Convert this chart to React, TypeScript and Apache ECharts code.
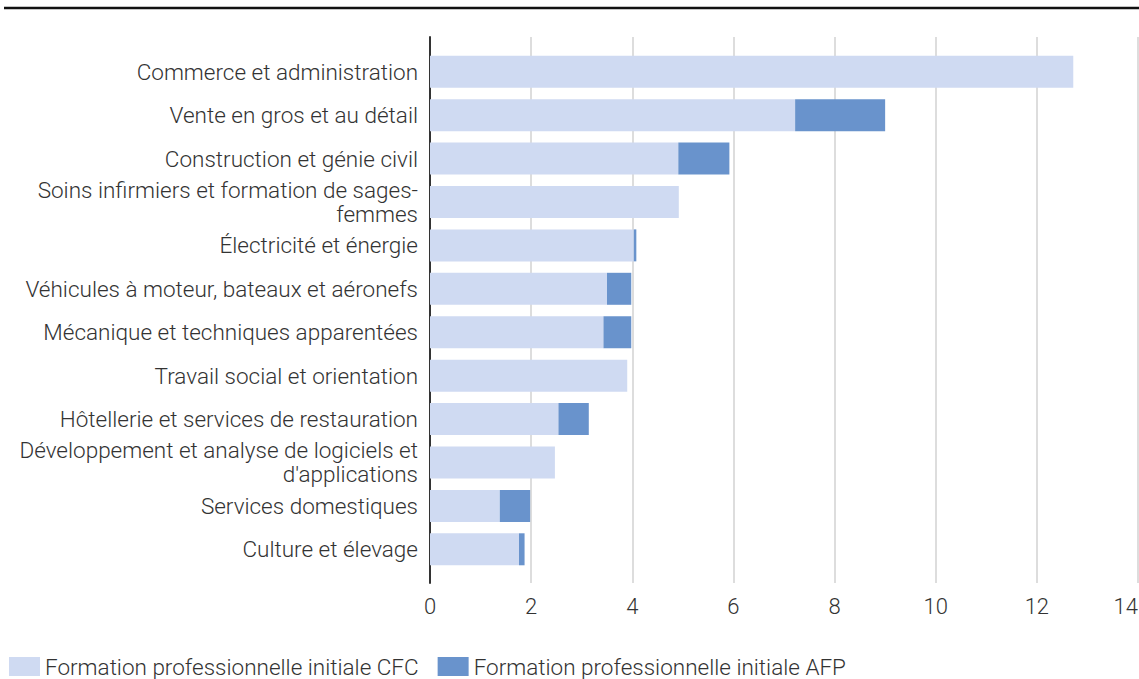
import React, { useEffect, useRef } from "react";
import * as echarts from "echarts";

const categories = [
  "Commerce et administration",
  "Vente en gros et au détail",
  "Construction et génie civil",
  "Soins infirmiers et formation de sages-\nfemmes",
  "Électricité et énergie",
  "Véhicules à moteur, bateaux et aéronefs",
  "Mécanique et techniques apparentées",
  "Travail social et orientation",
  "Hôtellerie et services de restauration",
  "Développement et analyse de logiciels et\nd'applications",
  "Services domestiques",
  "Culture et élevage",
];

const cfcValues = [12.72, 7.22, 4.91, 4.92, 4.03, 3.5, 3.43, 3.9, 2.54, 2.47, 1.38, 1.76];
const afpValues = [0, 1.78, 1.01, 0, 0.05, 0.48, 0.55, 0, 0.6, 0, 0.6, 0.11];

const seriesNames = [
  "Formation professionnelle initiale CFC",
  "Formation professionnelle initiale AFP",
];

const xTicks = { min: 0, max: 14, interval: 2 };

const FONT = "Roboto, 'Noto Sans', sans-serif";
const TEXT = "#333333";

export default function App() {
  const ref = useRef<HTMLDivElement>(null);

  useEffect(() => {
    if (!ref.current) return;
    const chart = echarts.init(ref.current, undefined, { renderer: "svg" });
    chart.setOption({
      animation: false,
      backgroundColor: "#ffffff",
      textStyle: { fontFamily: FONT, fontWeight: 300, color: TEXT },
      grid: [
        { left: 430, right: 1, top: 50, bottom: 108, containLabel: false, outerBoundsMode: "none" },
        { left: 430, right: 1, top: 37, bottom: 96, containLabel: false, outerBoundsMode: "none" },
      ],
      xAxis: [
        {
          gridIndex: 0,
          type: "value",
          ...xTicks,
          show: false,
          splitLine: { show: false },
        },
        {
          gridIndex: 1,
          type: "value",
          ...xTicks,
          axisLine: { show: false },
          axisTick: { show: false },
          axisLabel: {
            fontSize: 22,
            color: TEXT,
            margin: 12,
            fontFamily: FONT,
            fontWeight: 300,
            alignMaxLabel: "right",
          },
          splitLine: { show: true, lineStyle: { color: "#d2d2d2", width: 1.5 } },
        },
      ],
      yAxis: [
        {
          gridIndex: 0,
          type: "category",
          inverse: true,
          data: categories,
          axisLine: { show: false },
          axisTick: { show: false },
          axisLabel: {
            fontSize: 22.5,
            color: TEXT,
            margin: 12,
            lineHeight: 24,
            fontFamily: FONT,
            fontWeight: 300,
            align: "right",
          },
        },
        {
          gridIndex: 1,
          type: "value",
          min: 0,
          max: 1,
          axisLine: { show: true, lineStyle: { color: "#333333", width: 2 } },
          axisTick: { show: false },
          axisLabel: { show: false },
          splitLine: { show: false },
        },
      ],
      legend: {
        left: 9,
        top: 655,
        padding: 0,
        icon: "rect",
        itemWidth: 31,
        itemHeight: 19,
        itemGap: 19,
        textStyle: {
          fontSize: 22.5,
          lineHeight: 22,
          color: TEXT,
          fontFamily: FONT,
          fontWeight: 300,
        },
        data: seriesNames,
      },
      graphic: [
        {
          type: "line",
          shape: { x1: 4, y1: 8, x2: 1139, y2: 8 },
          style: { stroke: "#111111", lineWidth: 2.5 },
        },
      ],
      series: [
        {
          name: seriesNames[0],
          type: "bar",
          stack: "total",
          xAxisIndex: 0,
          yAxisIndex: 0,
          barWidth: 32,
          itemStyle: { color: "#cfdaf2" },
          data: cfcValues,
        },
        {
          name: seriesNames[1],
          type: "bar",
          stack: "total",
          xAxisIndex: 0,
          yAxisIndex: 0,
          barWidth: 32,
          itemStyle: { color: "#6993cc" },
          data: afpValues,
        },
      ],
    });
    return () => chart.dispose();
  }, []);

  return (
    <div
      ref={ref}
      style={{ position: "fixed", left: 0, top: 0, width: 1139, height: 679 }}
    />
  );
}
